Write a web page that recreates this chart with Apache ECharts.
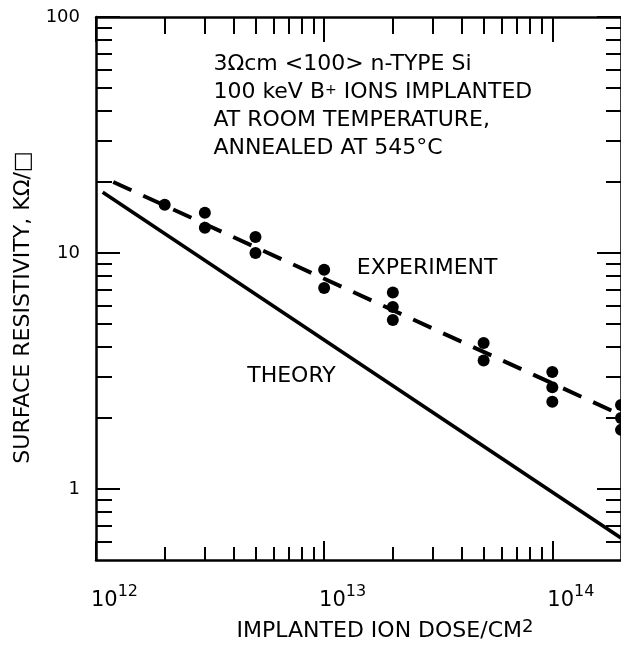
<!DOCTYPE html>
<html><head><meta charset="utf-8">
<script src="https://cdn.jsdelivr.net/npm/echarts@6/dist/echarts.min.js"></script>
<style>html,body{margin:0;padding:0;background:#fff}#c{width:621px;height:652px}</style>
</head><body><div id="c"></div>
<script>
// ---- data (raw values) ----
const experimentDose = [2e12, 3e12, 3e12, 5e12, 5e12, 1e13, 1e13, 2e13, 2e13, 2e13, 5e13, 5e13, 1e14, 1e14, 1e14, 2e14, 2e14, 2e14];
const experimentResistivity = [16.0, 14.8, 12.8, 11.7, 10.0, 8.5, 7.1, 6.8, 5.9, 5.2, 4.15, 3.5, 3.13, 2.7, 2.34, 2.27, 2.0, 1.78];
const experimentFitDose = [1.19e12, 2e14];
const experimentFitResistivity = [20.0, 2.06];
const theoryDose = [1.07e12, 2e14];
const theoryResistivity = [18.1, 0.62];
const xRange = [1e12, 2e14];
const yRange = [0.5, 100];
const xMajorTicks = [1e12, 1e13, 1e14];
const xMinorTicks = [2e12, 3e12, 4e12, 5e12, 6e12, 7e12, 8e12, 9e12, 2e13, 3e13, 4e13, 5e13, 6e13, 7e13, 8e13, 9e13];
const yMajorTicks = [1, 10, 100];
const yMinorTicks = [0.6, 0.7, 0.8, 0.9, 2, 3, 4, 5, 6, 7, 8, 9, 20, 30, 40, 50, 60, 70, 80, 90];
const annotationLines = ['3Ωcm <100> n-TYPE Si', '100 keV B{s|+} IONS IMPLANTED', 'AT ROOM TEMPERATURE,', 'ANNEALED AT 545°C'];
const annotationAnchor = [3.27e12, 72];   // dose, resistivity of text block top-left
const experimentLabel = {text: 'EXPERIMENT', at: [1.39e13, 8.6]};
const theoryLabel = {text: 'THEORY', at: [4.6e12, 3.0]};

const L = Math.log10;
const FONT = 'DejaVu Sans';
const chart = echarts.init(document.getElementById('c'));

function xAx(pos, ticks, len, major) {
  return {
    type: 'value', position: pos, min: L(xRange[0]), max: L(xRange[1]),
    axisLine: {show: major, onZero: false, lineStyle: {color: '#000', width: 2.5}},
    axisTick: {show: true, inside: true, length: len, customValues: ticks.map(L), lineStyle: {color: '#000', width: 2}},
    axisLabel: {show: false}, splitLine: {show: false}
  };
}
function yAx(pos, ticks, len, major) {
  return {
    type: 'value', position: pos, min: L(yRange[0]), max: L(yRange[1]),
    axisLine: {show: major, onZero: false, lineStyle: {color: '#000', width: 2.5}},
    axisTick: {show: true, inside: true, length: len, customValues: ticks.map(L), lineStyle: {color: '#000', width: 2}},
    axisLabel: {show: false}, splitLine: {show: false}
  };
}

const xBottom = xAx('bottom', xMajorTicks, 19, true);
xBottom.axisLabel = {
  show: true, customValues: xMajorTicks.map(L), margin: 24, align: 'center',
  formatter: v => '{sp| }{b|10}{s|' + Math.round(v) + '}',
  rich: {
    sp: {width: 37, fontSize: 10},
    b: {fontSize: 21, fontFamily: FONT, color: '#000', verticalAlign: 'bottom', lineHeight: 22},
    s: {fontSize: 16, fontFamily: FONT, color: '#000', verticalAlign: 'bottom', padding: [0, 0, 11, 0]}
  }
};
xBottom.name = 'IMPLANTED ION DOSE/CM{s|2}';
xBottom.nameLocation = 'middle';
xBottom.nameGap = 58;
xBottom.nameTextStyle = {fontSize: 22, fontFamily: FONT, color: '#000', padding: [0, 0, 0, 53],
  rich: {s: {fontSize: 18, fontFamily: FONT, color: '#000', verticalAlign: 'bottom', padding: [0, 0, 9, 0]}}};

const yLeft = yAx('left', yMajorTicks, 24, true);
yLeft.axisLabel = {
  show: true, customValues: yMajorTicks.map(L), margin: 16,
  formatter: v => '{v|' + Math.round(Math.pow(10, v)) + '}',
  rich: {v: {fontSize: 18, fontFamily: FONT, color: '#000'}}
};
yLeft.name = 'SURFACE RESISTIVITY, KΩ/□';
yLeft.nameLocation = 'middle';
yLeft.nameGap = 62;
yLeft.nameTextStyle = {fontSize: 22, fontFamily: FONT, color: '#000', padding: [0, 38, 0, 0]};

const option = {
  animation: false,
  backgroundColor: '#fff',
  grid: {left: 96, right: -4, top: 17, bottom: 92, containLabel: false},
  xAxis: [xBottom, xAx('bottom', xMinorTicks, 13, false), xAx('top', xMajorTicks, 25, true), xAx('top', xMinorTicks, 17, false)],
  yAxis: [yLeft, yAx('left', yMinorTicks, 16, false), yAx('right', yMajorTicks, 24, true), yAx('right', yMinorTicks, 15, false)],
  series: [
    {type: 'line', xAxisIndex: 0, yAxisIndex: 0, data: theoryDose.map((d, i) => [L(d), L(theoryResistivity[i])]),
      showSymbol: false, symbol: 'none', lineStyle: {color: '#000', width: 3.5}, clip: false},
    {type: 'line', xAxisIndex: 0, yAxisIndex: 0, data: experimentFitDose.map((d, i) => [L(d), L(experimentFitResistivity[i])]),
      showSymbol: false, symbol: 'none', lineStyle: {color: '#000', width: 4, type: [20, 13]}, clip: false},
    {type: 'scatter', xAxisIndex: 0, yAxisIndex: 0, data: experimentDose.map((d, i) => [L(d), L(experimentResistivity[i])]),
      symbol: 'circle', symbolSize: 12, itemStyle: {color: '#000', opacity: 1}, clip: false}
  ]
};
chart.setOption(option);

function px(p) { return chart.convertToPixel({xAxisIndex: 0, yAxisIndex: 0}, [L(p[0]), L(p[1])]); }
const a = px(annotationAnchor), e = px(experimentLabel.at), t = px(theoryLabel.at);
chart.setOption({graphic: [
  {type: 'text', x: a[0], y: a[1], style: {text: annotationLines.join('\n'), font: '22px ' + FONT, fill: '#000', lineHeight: 28,
     rich: {s: {fontSize: 14, fontFamily: FONT, fill: '#000', verticalAlign: 'bottom', padding: [0, 0, 9, 0]}}}},
  {type: 'text', x: e[0], y: e[1], style: {text: experimentLabel.text, font: '22px ' + FONT, fill: '#000', verticalAlign: 'middle'}},
  {type: 'text', x: t[0], y: t[1], style: {text: theoryLabel.text, font: '22px ' + FONT, fill: '#000', verticalAlign: 'middle'}}
]});
</script></body></html>
